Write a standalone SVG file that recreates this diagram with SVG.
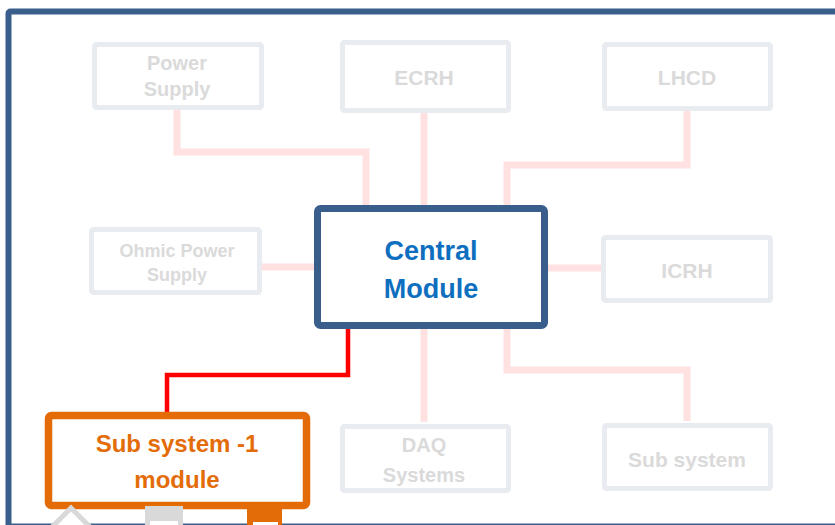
<svg xmlns="http://www.w3.org/2000/svg" width="835" height="525" viewBox="0 0 835 525">
  <style>
    text { font-family: "Liberation Sans", Arial, sans-serif; font-weight: bold; text-anchor: middle; }
    .faint-box { fill: #ffffff; stroke: #E8EBF0; stroke-width: 5; }
    .faint-text { fill: #DADADA; font-size: 20px; }
    .faint-link { fill: none; stroke: #FFE1E1; stroke-width: 7; stroke-linejoin: miter; }
    .active-link { fill: none; stroke: #FF0000; stroke-width: 4.5; }
  </style>

  <!-- outer frame -->
  <rect x="8.5" y="11.5" width="840" height="515" rx="2" fill="#ffffff" stroke="#3B5F8D" stroke-width="6"/>

  <!-- connectors -->
  <g id="connectors">
    <polyline class="faint-link" points="177,110 177,152 366,152 366,208"/>
    <line class="faint-link" x1="424" y1="113" x2="424" y2="208"/>
    <polyline class="faint-link" points="687,111 687,165 507,165 507,208"/>
    <line class="faint-link" x1="262" y1="267" x2="314" y2="267"/>
    <line class="faint-link" x1="548" y1="268" x2="601" y2="268"/>
    <line class="faint-link" x1="424" y1="329" x2="424" y2="422"/>
    <polyline class="faint-link" points="507,329 507,370 687,370 687,421"/>
    <polyline class="active-link" points="348,329 348,375 167,375 167,412"/>
  </g>

  <g id="power-supply">
    <rect class="faint-box" x="94.5" y="44.5" width="167" height="63" rx="2"/>
    <text class="faint-text" x="177" y="70">Power</text>
    <text class="faint-text" x="177" y="96">Supply</text>
  </g>

  <g id="ecrh">
    <rect class="faint-box" x="342.5" y="42.5" width="166" height="68" rx="2"/>
    <text class="faint-text" x="424" y="85" style="font-size:21px">ECRH</text>
  </g>

  <g id="lhcd">
    <rect class="faint-box" x="604.5" y="44.5" width="166" height="64" rx="2"/>
    <text class="faint-text" x="687" y="85" style="font-size:21px">LHCD</text>
  </g>

  <g id="ohmic-power-supply">
    <rect class="faint-box" x="91.5" y="229.5" width="168" height="63" rx="2"/>
    <text class="faint-text" x="177" y="257" style="font-size:18px">Ohmic Power</text>
    <text class="faint-text" x="177" y="281" style="font-size:18px">Supply</text>
  </g>

  <g id="icrh">
    <rect class="faint-box" x="603.5" y="237.5" width="167" height="63" rx="2"/>
    <text class="faint-text" x="687" y="278" style="font-size:21px">ICRH</text>
  </g>

  <g id="daq-systems">
    <rect class="faint-box" x="342.5" y="426.5" width="166" height="64" rx="2"/>
    <text class="faint-text" x="424" y="452">DAQ</text>
    <text class="faint-text" x="424" y="482">Systems</text>
  </g>

  <g id="sub-system">
    <rect class="faint-box" x="604.5" y="425.5" width="166" height="63" rx="2"/>
    <text class="faint-text" x="687" y="467" style="font-size:21px">Sub system</text>
  </g>

  <g id="central-module">
    <rect x="317.5" y="208.5" width="227" height="117" rx="3" fill="#ffffff" stroke="#3A5E8C" stroke-width="7"/>
    <text x="431" y="260" fill="#0F6FBF" style="font-size:27px">Central</text>
    <text x="431" y="298" fill="#0F6FBF" style="font-size:27px">Module</text>
  </g>

  <g id="sub-system-1-module">
    <rect x="48.5" y="415.5" width="258" height="90" rx="3" fill="#ffffff" stroke="#E36C09" stroke-width="7.5"/>
    <text x="177" y="452" fill="#E36C09" style="font-size:24px">Sub system -1</text>
    <text x="177" y="488" fill="#E36C09" style="font-size:24px">module</text>
  </g>

  <!-- ports below the sub system module -->
  <g id="ports">
    <polygon points="71,508 49,530 93,530" fill="#ffffff" stroke="#D9D9D9" stroke-width="5"/>
    <rect x="145" y="506" width="38" height="22" fill="#D9D9D9"/>
    <rect x="150" y="521" width="28" height="10" fill="#ffffff"/>
    <rect x="247" y="506" width="35" height="22" fill="#E36C09"/>
    <rect x="253" y="522" width="25" height="10" fill="#ffffff"/>
  </g>
</svg>
